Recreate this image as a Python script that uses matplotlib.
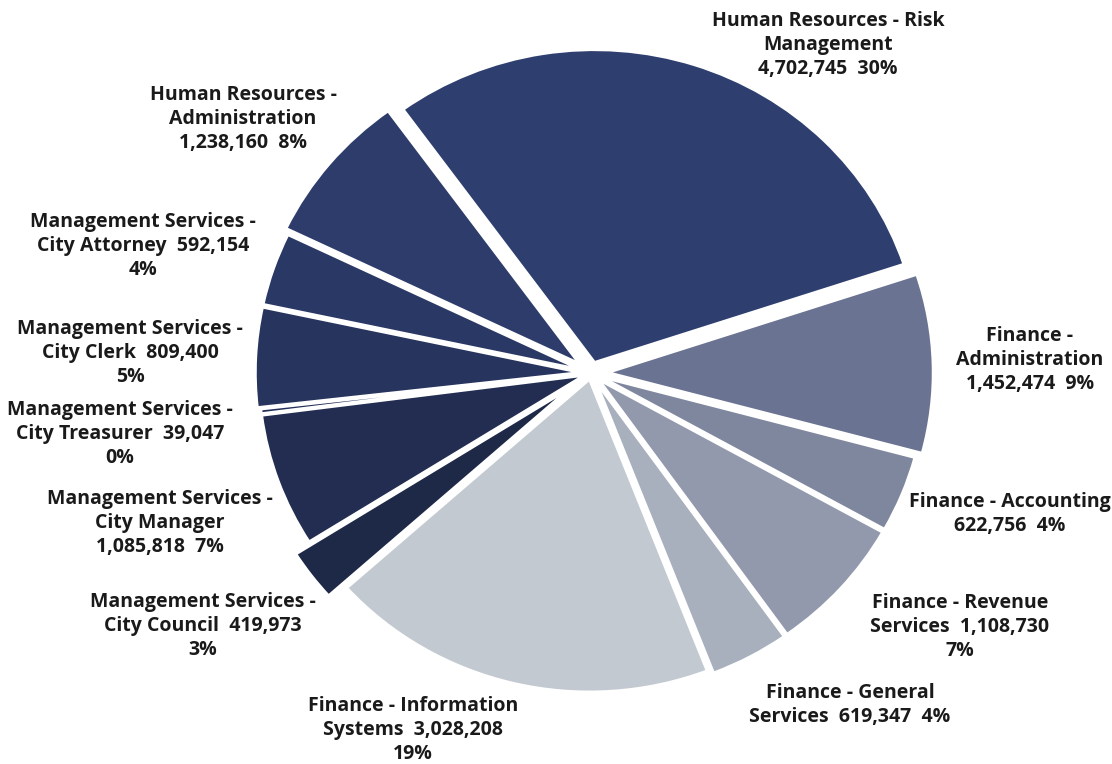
import matplotlib
matplotlib.use("Agg")
import matplotlib.pyplot as plt

# Budget by division (clockwise from Human Resources - Risk Management)
categories = [
    "Human Resources - Risk Management",
    "Finance - Administration",
    "Finance - Accounting",
    "Finance - Revenue Services",
    "Finance - General Services",
    "Finance - Information Systems",
    "Management Services - City Council",
    "Management Services - City Manager",
    "Management Services - City Treasurer",
    "Management Services - City Clerk",
    "Management Services - City Attorney",
    "Human Resources - Administration",
]
amounts = [4702745, 1452474, 622756, 1108730, 619347, 3028208,
           419973, 1085818, 39047, 809400, 592154, 1238160]

# Label line layouts ({v} = amount, {p} = percent)
label_templates = [
    "Human Resources - Risk\nManagement\n{v}  {p}",
    "Finance -\nAdministration\n{v}  {p}",
    "Finance - Accounting\n{v}  {p}",
    "Finance - Revenue\nServices  {v}\n{p}",
    "Finance - General\nServices  {v}  {p}",
    "Finance - Information\nSystems  {v}\n{p}",
    "Management Services -\nCity Council  {v}\n{p}",
    "Management Services -\nCity Manager\n{v}  {p}",
    "Management Services -\nCity Treasurer  {v}\n{p}",
    "Management Services -\nCity Clerk  {v}\n{p}",
    "Management Services -\nCity Attorney  {v}\n{p}",
    "Human Resources -\nAdministration\n{v}  {p}",
]

colors = ["#2e3e6f", "#6a7391", "#7f879f", "#9299ad", "#a8afbd", "#c3c9d0",
          "#1e2948", "#222d51", "#243058", "#27345e", "#2a3865", "#2d3c6b"]
explode = [0.035, 0.05, 0.03, 0.03, 0.03, 0.02, 0.075, 0.02, 0.02, 0.03, 0.03, 0.045]

# Label centres in pixel coordinates (x from left, y from top)
label_pos = [(828, 45), (1030, 360), (1010, 514), (960, 627), (850, 705), (413, 730),
             (203, 626), (160, 523), (120, 434), (130, 353), (143, 246), (243, 119)]

W, H = 1112, 764
fig = plt.figure(figsize=(W / 100, H / 100), dpi=100)
ax = fig.add_axes([0, 0, 1, 1])

cx, cy = 591, 373          # pie centre (pixels from top-left)
rx, ry = 326, 313          # horizontal / vertical radius in pixels

ax.pie(amounts, colors=colors, explode=explode, startangle=126, counterclock=False,
       radius=1.0, center=(0, 0),
       wedgeprops=dict(edgecolor="white", linewidth=2.2))
ax.set_aspect("auto")
ax.set_xlim(-cx / rx, (W - cx) / rx)
ax.set_ylim(-(H - cy) / ry, cy / ry)
ax.axis("off")

total = sum(amounts)
for tmpl, amt, (px, py) in zip(label_templates, amounts, label_pos):
    pct = f"{round(100 * amt / total):d}%"
    txt = tmpl.format(v=f"{amt:,}", p=pct)
    fig.text(px / W, 1 - py / H, txt, ha="center", va="center", multialignment="center",
             fontsize=14, fontweight="bold", family=["Open Sans", "DejaVu Sans"],
             color="#1a1a1a", linespacing=1.27)

fig.savefig("out.png", dpi=100, facecolor="white")
